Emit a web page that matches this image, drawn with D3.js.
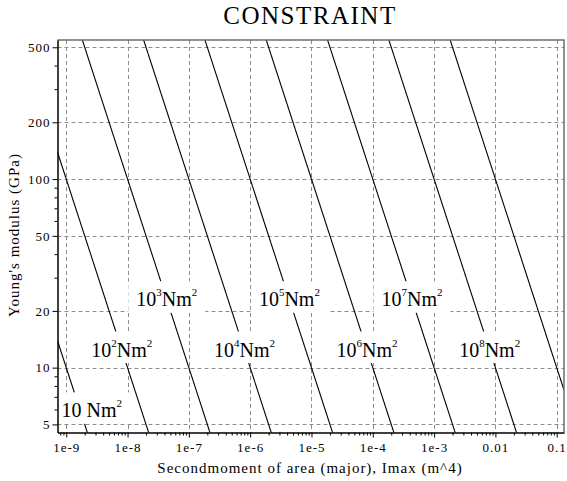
<!DOCTYPE html>
<html>
<head>
<meta charset="utf-8">
<script src="https://cdn.jsdelivr.net/npm/d3@7"></script>
<style>
  body { margin: 0; background: #fff; }
  svg, svg text { font-family: "Liberation Serif", "Times New Roman", serif; }
  svg { display: block; }
  .grid line { stroke: #8c8c8c; stroke-dasharray: 4,3; stroke-width: 1; }
  .tickLabel { font-size: 13px; letter-spacing: 1px; }
</style>
</head>
<body>
<script>
// constraint lines of constant bending stiffness EI (N m^2)
var stiffness = [1e1, 1e2, 1e3, 1e4, 1e5, 1e6, 1e7, 1e8, 1e9];
// which lines carry a label, the exponent shown and the modulus (GPa) where it sits
var labelExp = [1, 2, 3, 4, 5, 6, 7, 8];
var labelE = [5.9, 12.4, 22.9, 12.4, 22.9, 12.4, 22.9, 12.4];

var xTicks = [1e-9, 1e-8, 1e-7, 1e-6, 1e-5, 1e-4, 1e-3, 1e-2, 1e-1];
var xTickLabels = ["1e-9", "1e-8", "1e-7", "1e-6", "1e-5", "1e-4", "1e-3", "0.01", "0.1"];
var yTicks = [5, 10, 20, 50, 100, 200, 500];
var yTickLabels = ["5", "10", "20", "50", "100", "200", "500"];

(function (){
    var width = 567, height = 481;
    var left = 57.5, right = 564, top = 40, bottom = 432.5;

    var svg = d3.select("body").append("svg")
        .attr("width", width)
        .attr("height", height);

    var x = d3.scaleLog().domain([7.2e-10, 0.1315]).range([left, right]);
    var y = d3.scaleLog().domain([4.53, 546.5]).range([bottom, top]);

    //minor tick values for the log axes
    var xMinor = [];
    for (var p = -10; p <= -1; p++) {
        for (var m = 2; m <= 9; m++) {
            var v = m * Math.pow(10, p);
            if (v > x.domain()[0] && v < x.domain()[1]) xMinor.push(v);
        }
    }
    var yMinor = [];
    for (var q = 0; q <= 2; q++) {
        for (var n = 2; n <= 9; n++) {
            var w = n * Math.pow(10, q);
            if (w > y.domain()[0] && w < y.domain()[1] && yTicks.indexOf(w) < 0) yMinor.push(w);
        }
    }

    svg.append("clipPath").attr("id", "plotClip")
        .append("rect")
        .attr("x", left).attr("y", top)
        .attr("width", right - left).attr("height", bottom - top);

    var plot = svg.append("g").attr("clip-path", "url(#plotClip)");

    //dashed grid
    var grid = plot.append("g").attr("class", "grid");
    grid.selectAll(".gx").data(xTicks).enter().append("line")
        .attr("x1", function(d){ return Math.round(x(d)) + 0.5; })
        .attr("x2", function(d){ return Math.round(x(d)) + 0.5; })
        .attr("y1", top).attr("y2", bottom);
    grid.selectAll(".gy").data(yTicks).enter().append("line")
        .attr("y1", function(d){ return Math.round(y(d)) + 0.5; })
        .attr("y2", function(d){ return Math.round(y(d)) + 0.5; })
        .attr("x1", left).attr("x2", right);

    //E (GPa) = EI / (I * 1e9)
    var I0 = x.domain()[0], I1 = x.domain()[1];
    plot.selectAll(".ei").data(stiffness).enter().append("line")
        .attr("class", "ei")
        .attr("x1", x(I0)).attr("y1", function(d){ return y(d / (I0 * 1e9)); })
        .attr("x2", x(I1)).attr("y2", function(d){ return y(d / (I1 * 1e9)); })
        .attr("stroke", "#000")
        .attr("stroke-width", 1.1);

    //labels with white boxes that break the lines
    var labels = svg.append("g");
    labelExp.forEach(function(k, i){
        var E = labelE[i];
        var C = Math.pow(10, k);
        var cx = x(C / (E * 1e9));
        var base = y(E) + 6.5;
        var g = labels.append("g");
        var box = g.append("rect").attr("fill", "#fff");
        var t = g.append("text")
            .attr("y", base)
            .attr("font-size", 20);
        if (k === 1) {
            t.append("tspan").text("10 Nm");
        } else {
            t.append("tspan").text("10");
            t.append("tspan").attr("font-size", 11).attr("dy", -10).text(k);
            t.append("tspan").attr("dy", 10).text("Nm");
        }
        t.append("tspan").attr("font-size", 11).attr("dy", -10).text("2");
        var tw = t.node().getComputedTextLength();
        var tx = Math.max(cx - tw / 2, left + 4);
        t.attr("x", tx);
        box.attr("x", tx - 8).attr("y", base - 25)
            .attr("width", tw + 16).attr("height", 31.5);
    });
    labels.attr("clip-path", "url(#plotClip)");

    //frame: top and right in grey
    svg.append("path")
        .attr("d", "M" + left + "," + top + "H" + right + "V" + bottom)
        .attr("fill", "none")
        .attr("stroke", "#6e6e6e")
        .attr("stroke-width", 1.5);

    //axes
    var xAxis = d3.axisBottom(x).tickValues(xTicks)
        .tickFormat(function(d, i){ return xTickLabels[i]; })
        .tickSize(5).tickSizeOuter(0).tickPadding(5);
    var xAxisMinor = d3.axisBottom(x).tickValues(xMinor).tickFormat("").tickSize(3).tickSizeOuter(0);
    var yAxis = d3.axisLeft(y).tickValues(yTicks)
        .tickFormat(function(d, i){ return yTickLabels[i]; })
        .tickSize(5).tickSizeOuter(0).tickPadding(2);
    var yAxisMinor = d3.axisLeft(y).tickValues(yMinor).tickFormat("").tickSize(3).tickSizeOuter(0);

    [xAxisMinor, xAxis].forEach(function(ax){
        svg.append("g").attr("class", "axis").attr("transform", "translate(0," + bottom + ")").call(ax);
    });
    [yAxisMinor, yAxis].forEach(function(ax){
        svg.append("g").attr("class", "axis").attr("transform", "translate(" + left + ",0)").call(ax);
    });
    svg.selectAll(".axis")
        .attr("font-family", null)
        .attr("font-size", null);
    svg.selectAll(".tick text")
        .attr("class", "tickLabel")
        .attr("fill", "#000");
    svg.selectAll(".domain, .tick line").attr("stroke", "#000");

    //titles
    svg.append("text")
        .attr("x", 310).attr("y", 23.5)
        .attr("text-anchor", "middle")
        .attr("font-size", 25)
        .attr("letter-spacing", 1.5)
        .text("CONSTRAINT");

    svg.append("text")
        .attr("x", 310).attr("y", 473)
        .attr("text-anchor", "middle")
        .attr("font-size", 15)
        .attr("letter-spacing", 1)
        .text("Secondmoment of area (major), Imax (m^4)");

    svg.append("text")
        .attr("transform", "translate(18.5,235) rotate(-90)")
        .attr("text-anchor", "middle")
        .attr("font-size", 15)
        .attr("letter-spacing", 1)
        .text("Young's modulus (GPa)");
})();
</script>
</body>
</html>
